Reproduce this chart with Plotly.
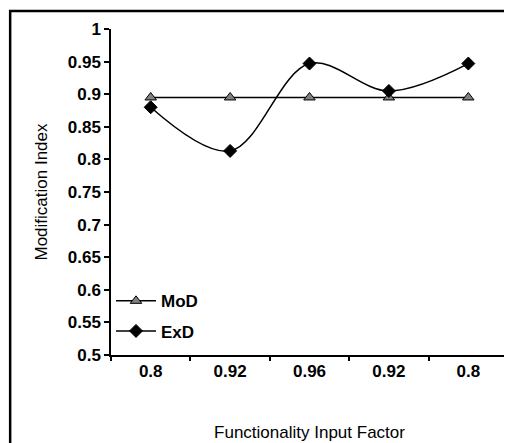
import plotly.graph_objects as go

categories = ["0.8", "0.92", "0.96", "0.92", "0.8"]
mod_values = [0.895, 0.895, 0.895, 0.895, 0.895]
exd_values = [0.880, 0.813, 0.947, 0.905, 0.947]
y_ticks = [0.5, 0.55, 0.6, 0.65, 0.7, 0.75, 0.8, 0.85, 0.9, 0.95, 1]

xpos = list(range(len(categories)))
bounds = [i - 0.5 for i in range(len(categories) + 1)]
FONT = "Liberation Sans, Arial, sans-serif"

fig = go.Figure()
fig.add_trace(go.Scatter(
    x=xpos, y=mod_values, name="MoD", mode="lines+markers",
    line=dict(color="black", width=1.5),
    marker=dict(symbol="triangle-up", size=10, color="#808080",
                line=dict(color="black", width=1)),
    legendgroup="a",
))
fig.add_trace(go.Scatter(
    x=xpos, y=exd_values, name="ExD", mode="lines+markers",
    line=dict(color="black", width=1.5, shape="spline", smoothing=1),
    marker=dict(symbol="diamond", size=10, color="black",
                line=dict(color="black", width=1)),
    legendgroup="b",
))
# invisible trace on overlay axis for boundary ticks
fig.add_trace(go.Scatter(x=[bounds[0], bounds[-1]], y=[0.5, 0.5], xaxis="x2",
                         mode="lines", line=dict(width=0), showlegend=False,
                         hoverinfo="skip"))

fig.update_layout(
    width=512, height=443,
    margin=dict(l=103, r=12, t=21, b=96),
    paper_bgcolor="white", plot_bgcolor="white",
    font=dict(family=FONT, color="black"),
    xaxis=dict(range=[bounds[0], bounds[-1]], tickvals=xpos, ticktext=categories,
               ticks="", showgrid=False, zeroline=False, showline=True,
               linecolor="black", linewidth=1.5,
               tickfont=dict(size=17, family=FONT, weight="bold"),
               title=dict(text="Functionality Input Factor",
                          font=dict(size=17), standoff=46)),
    xaxis2=dict(range=[bounds[0], bounds[-1]], overlaying="x", tickvals=bounds,
                ticks="outside", ticklen=5, tickcolor="black", tickwidth=1.5,
                showticklabels=False, showgrid=False, zeroline=False, showline=False),
    yaxis=dict(range=[0.5, 1], tickvals=y_ticks, ticks="outside", ticklen=5,
               tickcolor="black", tickwidth=1.5, showgrid=False, zeroline=False,
               showline=True, linecolor="black", linewidth=1.5,
               tickfont=dict(size=17, weight="bold"),
               title=dict(text="Modification Index", font=dict(size=17), standoff=16)),
    legend=dict(x=0.0, y=0.22, xanchor="left", yanchor="top",
                font=dict(size=17, family=FONT, weight="bold"),
                bgcolor="rgba(0,0,0,0)", tracegroupgap=5, itemwidth=40),
    showlegend=True,
    shapes=[dict(type="rect", xref="paper", yref="paper",
                 x0=-0.254, x1=1.3, y0=-0.6, y1=1.055,
                 line=dict(color="black", width=2.5), layer="below")],
)

fig.write_html("out.html")
